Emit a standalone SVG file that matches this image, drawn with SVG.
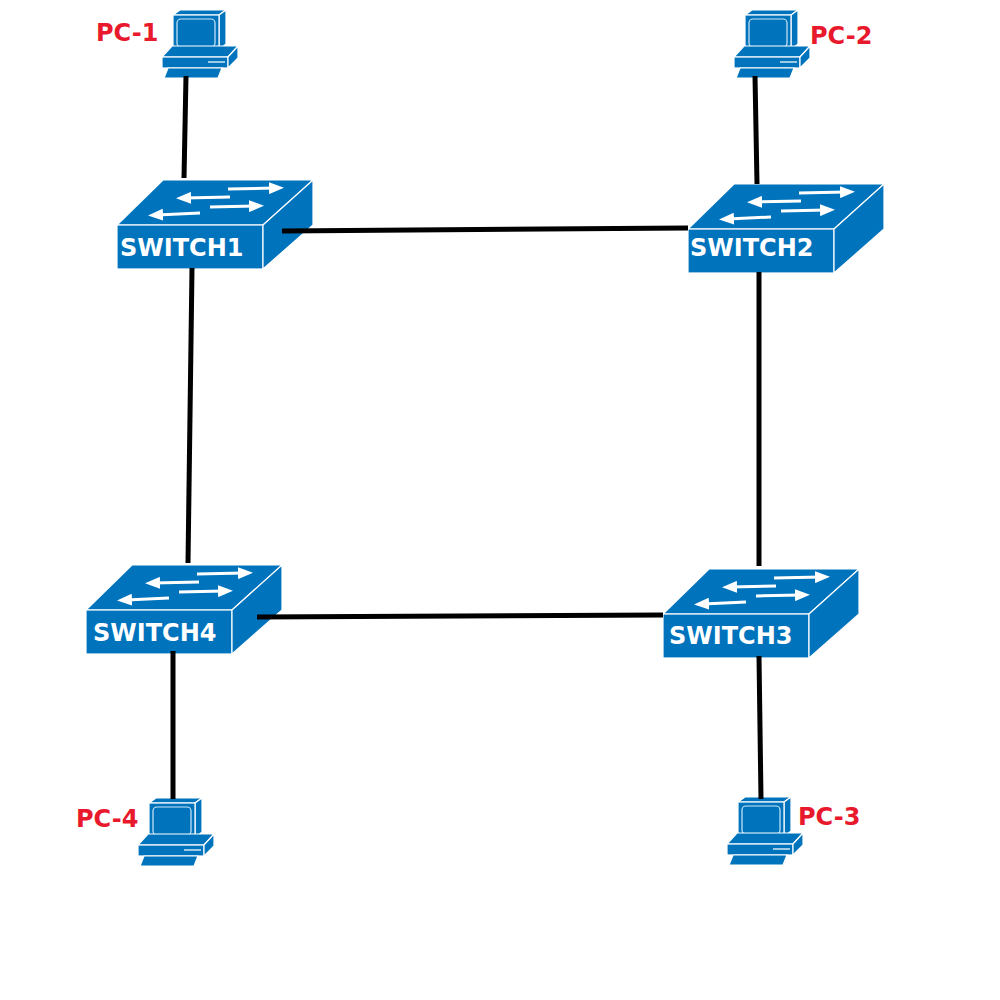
<svg xmlns="http://www.w3.org/2000/svg" width="1000" height="1000" viewBox="0 0 1000 1000">
<style>
.c{stroke:#000;stroke-width:5;fill:none}
.pc{font-family:"DejaVu Sans",sans-serif;font-weight:bold;font-size:24px;fill:#e8192c}
.sw{font-family:"DejaVu Sans",sans-serif;font-weight:bold;font-size:24px;fill:#fff}
.b{fill:#0073bd;stroke:#fff;stroke-width:1.2}
.a{stroke:#fff;stroke-width:3;fill:none}
</style>
<defs>
<marker id="h" markerWidth="5" markerHeight="4" refX="2" refY="2" orient="auto" markerUnits="strokeWidth"><path d="M0,0L5,2L0,4z" fill="#fff"/></marker>
<g id="swi">
<polygon class="b" points="0,45 46,0 196,0 146,45"/>
<rect class="b" x="0" y="45" width="146" height="44"/>
<polygon class="b" points="146,45 196,0 196,45 146,89"/>
<line class="a" x1="111" y1="9" x2="158" y2="8" marker-end="url(#h)"/>
<line class="a" x1="113" y1="17" x2="68" y2="18" marker-end="url(#h)"/>
<line class="a" x1="93" y1="27" x2="138" y2="26" marker-end="url(#h)"/>
<line class="a" x1="83" y1="33" x2="40" y2="35" marker-end="url(#h)"/>
</g>
<g id="pci">
<polygon class="b" points="11,5 18,0 64,0 57,5"/>
<polygon class="b" points="57,5 64,0 64,34 57,40"/>
<rect class="b" x="11" y="5" width="46" height="35"/>
<rect x="15" y="9" width="38" height="28" rx="4" fill="none" stroke="#cfe6f5" stroke-width="1.2"/>
<polygon class="b" points="0,47 10,36 76,36 66,47"/>
<rect class="b" x="0" y="47" width="66" height="11"/>
<polygon class="b" points="66,47 76,36 76,48 66,58"/>
<line x1="46" y1="52" x2="63" y2="52" stroke="#cfe6f5" stroke-width="1.5"/>
<polygon class="b" points="2,68 6,58 60,58 56,68"/>
</g>
</defs>
<g id="switch1"><use href="#swi" x="117" y="180"/><text class="sw" x="120" y="256">SWITCH1</text></g>
<g id="switch2"><use href="#swi" x="688" y="184"/><text class="sw" x="690" y="256">SWITCH2</text></g>
<g id="switch3"><use href="#swi" x="663" y="569"/><text class="sw" x="669" y="644">SWITCH3</text></g>
<g id="switch4"><use href="#swi" x="86" y="565"/><text class="sw" x="93" y="641">SWITCH4</text></g>
<g id="pc1"><use href="#pci" x="162" y="10"/><text class="pc" x="96" y="41">PC-1</text></g>
<g id="pc2"><use href="#pci" x="734" y="10"/><text class="pc" x="810" y="44">PC-2</text></g>
<g id="pc3"><use href="#pci" x="727" y="797"/><text class="pc" x="798" y="825">PC-3</text></g>
<g id="pc4"><use href="#pci" x="138" y="798"/><text class="pc" x="76" y="827">PC-4</text></g>
<g id="connectors">
<line class="c" x1="186" y1="76" x2="184" y2="178"/>
<line class="c" x1="755" y1="76" x2="757" y2="184"/>
<line class="c" x1="282" y1="231" x2="688" y2="228"/>
<line class="c" x1="192" y1="268" x2="188" y2="563"/>
<line class="c" x1="759" y1="272" x2="759" y2="566"/>
<line class="c" x1="257" y1="617" x2="663" y2="615"/>
<line class="c" x1="173" y1="651" x2="173" y2="799"/>
<line class="c" x1="759" y1="656" x2="761" y2="799"/>
</g>
</svg>
